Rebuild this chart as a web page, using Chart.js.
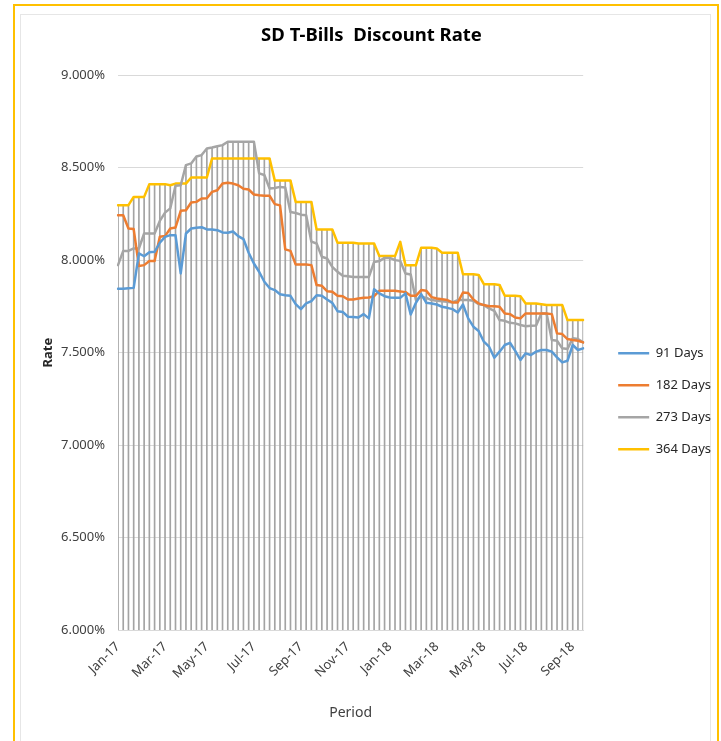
<!DOCTYPE html>
<html>
<head>
<meta charset="utf-8">
<title>SD T-Bills Discount Rate</title>
<script src="https://cdn.jsdelivr.net/npm/chart.js@4.4.1/dist/chart.umd.min.js"></script>
<style>
  html, body { margin: 0; padding: 0; background: #fff; overflow: hidden; }
  #frame { position: absolute; left: 13px; top: 4px; width: 702px; height: 760px; border: 2px solid #ffc000; }
  #inner { position: absolute; left: 20px; top: 14px; width: 689px; height: 760px; border: 1px solid #e6e6e6; }
  #rateChart { position: absolute; left: 0; top: 0; }
</style>
</head>
<body>
<div id="frame"></div>
<div id="inner"></div>
<canvas id="rateChart" width="721" height="741"></canvas>
<script>
'use strict';

// weekly auctions, first one on 2 Jan 2017
const firstWeek = new Date(2017, 0, 2);
const monthNames = ['Jan', 'Feb', 'Mar', 'Apr', 'May', 'Jun', 'Jul', 'Aug', 'Sep', 'Oct', 'Nov', 'Dec'];
const seriesNames = ['91 Days', '182 Days', '273 Days', '364 Days'];
const seriesColors = ['#5b9bd5', '#ed7d31', '#a5a5a5', '#ffc000'];

const days91 = [
  7.845, 7.845, 7.848, 7.850, 8.036, 8.021, 8.043, 8.045, 8.094, 8.126,
  8.135, 8.135, 7.928, 8.144, 8.171, 8.175, 8.178, 8.166, 8.166, 8.162,
  8.150, 8.148, 8.155, 8.130, 8.114, 8.040, 7.982, 7.937, 7.883, 7.849,
  7.838, 7.816, 7.810, 7.807, 7.762, 7.735, 7.766, 7.778, 7.810, 7.807,
  7.787, 7.769, 7.724, 7.720, 7.694, 7.692, 7.690, 7.708, 7.685, 7.843,
  7.820, 7.805, 7.798, 7.796, 7.796, 7.820, 7.706, 7.769, 7.816, 7.769,
  7.766, 7.760, 7.748, 7.742, 7.735, 7.717, 7.760, 7.685, 7.640, 7.617,
  7.559, 7.532, 7.472, 7.505, 7.541, 7.553, 7.509, 7.460, 7.496, 7.487,
  7.505, 7.514, 7.514, 7.505, 7.474, 7.447, 7.456, 7.541, 7.514, 7.523
];

const days182 = [
  8.243, 8.243, 8.171, 8.168, 7.968, 7.973, 7.995, 7.995, 8.126, 8.130,
  8.171, 8.176, 8.267, 8.270, 8.312, 8.315, 8.333, 8.335, 8.369, 8.378,
  8.414, 8.418, 8.414, 8.405, 8.386, 8.382, 8.355, 8.351, 8.348, 8.348,
  8.303, 8.296, 8.058, 8.050, 7.976, 7.976, 7.976, 7.973, 7.865, 7.861,
  7.832, 7.829, 7.807, 7.805, 7.787, 7.787, 7.793, 7.796, 7.798, 7.805,
  7.834, 7.834, 7.834, 7.834, 7.831, 7.827, 7.807, 7.807, 7.838, 7.834,
  7.800, 7.793, 7.789, 7.784, 7.771, 7.771, 7.825, 7.822, 7.787, 7.766,
  7.757, 7.751, 7.751, 7.748, 7.712, 7.708, 7.690, 7.685, 7.712, 7.712,
  7.712, 7.712, 7.712, 7.708, 7.604, 7.600, 7.573, 7.568, 7.564, 7.555
];

const days273 = [
  7.973, 8.050, 8.050, 8.063, 8.063, 8.144, 8.144, 8.144, 8.212, 8.257,
  8.280, 8.402, 8.405, 8.514, 8.523, 8.560, 8.568, 8.604, 8.609, 8.616,
  8.622, 8.640, 8.640, 8.640, 8.640, 8.640, 8.640, 8.469, 8.460, 8.387,
  8.390, 8.396, 8.393, 8.260, 8.255, 8.246, 8.243, 8.100, 8.090, 8.018,
  8.009, 7.964, 7.937, 7.915, 7.913, 7.909, 7.909, 7.909, 7.909, 7.990,
  7.995, 8.012, 8.012, 8.000, 7.996, 7.928, 7.922, 7.784, 7.802, 7.796,
  7.784, 7.780, 7.778, 7.775, 7.771, 7.784, 7.784, 7.784, 7.780, 7.762,
  7.757, 7.739, 7.726, 7.676, 7.672, 7.661, 7.658, 7.649, 7.643, 7.645,
  7.647, 7.712, 7.712, 7.568, 7.564, 7.523, 7.520, 7.577, 7.573, 7.555
];

const days364 = [
  8.297, 8.297, 8.297, 8.342, 8.342, 8.342, 8.411, 8.411, 8.411, 8.411,
  8.405, 8.414, 8.414, 8.414, 8.447, 8.447, 8.447, 8.447, 8.550, 8.550,
  8.550, 8.550, 8.550, 8.550, 8.550, 8.550, 8.550, 8.550, 8.550, 8.550,
  8.430, 8.430, 8.430, 8.430, 8.315, 8.315, 8.315, 8.315, 8.166, 8.166,
  8.166, 8.166, 8.094, 8.094, 8.094, 8.094, 8.090, 8.090, 8.090, 8.090,
  8.022, 8.022, 8.022, 8.022, 8.099, 7.973, 7.973, 7.973, 8.067, 8.067,
  8.067, 8.063, 8.040, 8.040, 8.040, 8.040, 7.924, 7.924, 7.924, 7.920,
  7.870, 7.870, 7.870, 7.866, 7.807, 7.807, 7.807, 7.805, 7.766, 7.766,
  7.766, 7.762, 7.757, 7.757, 7.757, 7.757, 7.676, 7.676, 7.676, 7.676
];

const rateMin = 6;
const rateMax = 9;
const rateStep = 0.5;

const weeks = days91.map((_, i) => {
  const d = new Date(firstWeek);
  d.setDate(d.getDate() + 7 * i);
  return d;
});

// label the first week of every second month: Jan, Mar, May ...
const weekLabel = (index) => {
  const d = weeks[index];
  const prev = weeks[index - 1];
  const newMonth = !prev || prev.getMonth() !== d.getMonth();
  if (newMonth && d.getMonth() % 2 === 0) {
    return monthNames[d.getMonth()] + '-' + String(d.getFullYear()).slice(2);
  }
  return '';
};

// drop lines from the axis up to the highest rate of the week
const dropLines = days91.map((v, i) => [rateMin, Math.max(v, days182[i], days273[i], days364[i])]);

const lineSets = [days91, days182, days273, days364].map((values, i) => ({
  label: seriesNames[i],
  data: values,
  borderColor: seriesColors[i],
  backgroundColor: seriesColors[i],
  borderWidth: 2.5,
  borderJoinStyle: 'round',
  borderCapStyle: 'round',
  pointRadius: 0,
  tension: 0,
  fill: false,
  order: 0
}));

Chart.defaults.font.family = "'Noto Sans', sans-serif";

const ctx = document.getElementById('rateChart').getContext('2d');

const rateChart = new Chart(ctx, {
  type: 'line',
  data: {
    labels: weeks.map((d) => d.toISOString().slice(0, 10)),
    datasets: [
      ...lineSets,
      {
        type: 'bar',
        label: 'drop',
        data: dropLines,
        backgroundColor: '#a3a3a3',
        borderWidth: 0,
        barThickness: 1,
        order: 5
      }
    ]
  },
  options: {
    responsive: false,
    animation: false,
    layout: {
      padding: { left: 22, right: 0, top: 10, bottom: 10 }
    },
    scales: {
      x: {
        type: 'category',
        offset: false,
        grid: { display: false, offset: false },
        border: { display: true, color: '#d9d9d9' },
        ticks: {
          autoSkip: false,
          maxRotation: 45,
          minRotation: 45,
          padding: 1,
          color: '#404040',
          font: { size: 13 },
          callback: (value, index) => weekLabel(index)
        },
        title: {
          display: true,
          text: 'Period',
          color: '#404040',
          font: { size: 14 },
          padding: { top: 0, bottom: 10 }
        },
        afterFit: (scale) => { scale.height = 101; }
      },
      y: {
        min: rateMin,
        max: rateMax,
        grid: { color: '#d9d9d9', drawTicks: false },
        border: { display: false },
        ticks: {
          stepSize: rateStep,
          padding: 13,
          color: '#404040',
          font: { size: 13 },
          callback: (v) => v.toFixed(3) + '%'
        },
        title: {
          display: true,
          text: 'Rate',
          color: '#262626',
          font: { size: 13, weight: 'bold' },
          padding: { top: 18, bottom: 0 }
        },
        afterFit: (scale) => { scale.width = 96; }
      },
      // empty strip between plot and legend
      gap: {
        type: 'linear',
        position: 'right',
        grid: { display: false },
        border: { display: false },
        ticks: { display: false },
        afterFit: (scale) => { scale.width = 16; }
      }
    },
    plugins: {
      title: {
        display: true,
        text: 'SD T-Bills  Discount Rate',
        color: '#000',
        font: { size: 18.5, weight: 'bold' },
        padding: { top: 15, bottom: 28 }
      },
      legend: {
        position: 'right',
        maxWidth: 124,
        // blank title only pushes the items down to mid height
        title: { display: true, text: ' ', padding: 23, font: { size: 13 } },
        labels: {
          usePointStyle: true,
          pointStyle: 'line',
          pointStyleWidth: 31,
          padding: 19,
          color: '#262626',
          font: { size: 13 },
          filter: (item) => item.datasetIndex < 4
        }
      },
      tooltip: { enabled: false }
    }
  }
});
</script>
</body>
</html>
